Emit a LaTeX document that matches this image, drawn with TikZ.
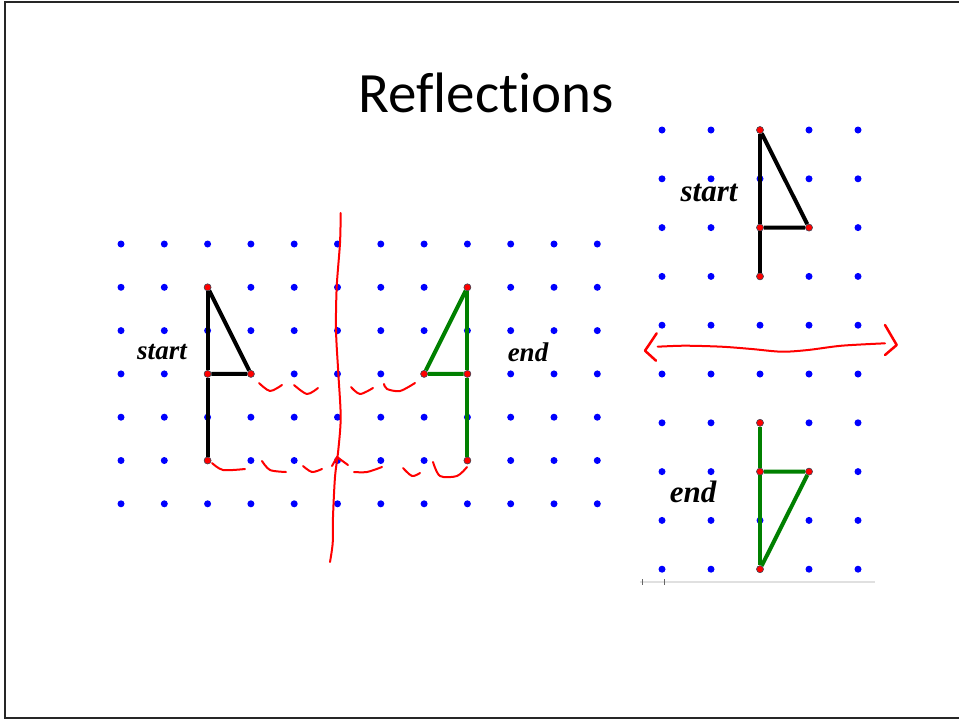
\documentclass[tikz,border=0pt]{standalone}
\usepackage{fontspec}
\setmainfont{Liberation Serif}
\newfontfamily\titlefont{Carlito}[Ligatures={NoCommon,NoContextual}]
\usetikzlibrary{positioning}
\definecolor{gridblue}{RGB}{0,0,255}
\definecolor{pen}{RGB}{255,0,0}
\definecolor{mirgreen}{RGB}{0,128,0}
\tikzset{
  dot/.style={circle, fill=gridblue, inner sep=0pt, minimum size=7pt},
  vtx/.style={circle, draw=black!70, fill=red, inner sep=0pt, minimum size=7pt, line width=0.6pt},
  side/.style={line width=4pt, draw=#1},
  side/.default={black},
  ink/.style={draw=pen, line width=2pt, line cap=round, line join=round},
  lbl/.style={font=\fontsize{#1}{#1}\selectfont\bfseries\itshape, inner sep=0pt},
  lbl/.default={27}
}

\begin{document}
\begin{tikzpicture}[x=1pt, y=-1pt]
  \useasboundingbox (0,0) rectangle (959,721);
  \fill[white] (0,0) rectangle (959,721);
  \draw[line width=1.5pt, black!85] (959,2) -- (5,2) -- (5,718) -- (959,718);
  \node[font=\titlefont\fontsize{57}{60}\selectfont] (title) at (486,93) {Reflections};

  % left grid
  \foreach \i in {0,...,11}
    \foreach \j in {0,...,6}
      \node[dot] (L-\i-\j) at ({121+43.3*\i},{244+43.3*\j}) {};
  % right grid
  \foreach \i in {0,...,4}
    \foreach \j in {0,...,9}
      \node[dot] (R-\i-\j) at ({662+49*\i},{130+48.8*\j}) {};

  % left: start shape
  \node[vtx] (sTop) at (L-2-1) {};
  \node[vtx] (sMid) at (L-2-3) {};
  \node[vtx] (sTip) at (L-3-3) {};
  \node[vtx] (sBot) at (L-2-5) {};
  \draw[side] (sTop) -- (sMid) -- (sBot);
  \draw[side] (sMid) -- (sTip) -- (sTop);
  % left: end shape
  \node[vtx] (eTop) at (L-8-1) {};
  \node[vtx] (eMid) at (L-8-3) {};
  \node[vtx] (eTip) at (L-7-3) {};
  \node[vtx] (eBot) at (L-8-5) {};
  \draw[side=mirgreen] (eTop) -- (eMid) -- (eBot);
  \draw[side=mirgreen] (eMid) -- (eTip) -- (eTop);
  \node[lbl] (startL) at (162,352) {start};
  \node[lbl] (endL) at (528,352) {end};

  % right: start shape
  \node[vtx] (rsTop) at (R-2-0) {};
  \node[vtx] (rsMid) at (R-2-2) {};
  \node[vtx] (rsTip) at (R-3-2) {};
  \node[vtx] (rsBot) at (R-2-3) {};
  \draw[side] (rsTop) -- (rsMid) -- (rsBot);
  \draw[side] (rsMid) -- (rsTip) -- (rsTop);
  % right: end shape
  \node[vtx] (reTop) at (R-2-6) {};
  \node[vtx] (reMid) at (R-2-7) {};
  \node[vtx] (reTip) at (R-3-7) {};
  \node[vtx] (reBot) at (R-2-9) {};
  \draw[side=mirgreen] (reTop) -- (reMid) -- (reBot);
  \draw[side=mirgreen] (reMid) -- (reTip) -- (reBot);
  \node[lbl=31] (startR) at (709,193) {start};
  \node[lbl=31] (endR) at (693,492) {end};

  % slider bar under the right grid
  \draw[black!12, line width=1.5pt] (640,582) -- (875,582);
  \draw[black!60, line width=0.6pt] (642,579) -- (642,585) (664,579) -- (664,585);

  % pen marks: mirror line and counted steps
  \draw[ink] plot[smooth] coordinates {(340.7,213) (340,243) (336.7,287) (336,330) (338.3,373) (340.7,417) (338.3,450) (335,477) (333,517) (332.7,543) (330,562)};
  \draw[ink] (332,466) -- (337,457) -- (348,465);
  \draw[ink] plot[smooth] coordinates {(259,383) (270,391) (282,385)};
  \draw[ink] plot[smooth] coordinates {(294,385) (307,394) (318,388)};
  \draw[ink] plot[smooth] coordinates {(351,387) (360,394) (373,388)};
  \draw[ink] plot[smooth] coordinates {(384,384) (387,389) (400,391) (415,383)};
  \draw[ink] plot[smooth] coordinates {(212,463) (223,470) (245,469)};
  \draw[ink] plot[smooth] coordinates {(262,461) (270,470) (286,472)};
  \draw[ink] plot[smooth] coordinates {(303,466) (312,472) (322,469)};
  \draw[ink] plot[smooth] coordinates {(354,472) (367,472) (382,467)};
  \draw[ink] plot[smooth] coordinates {(403,468) (412,476) (420,473)};
  \draw[ink] plot[smooth] coordinates {(433,462) (440,476) (457,476) (467,467)};
  % pen marks: horizontal mirror line
  \draw[ink] plot[smooth] coordinates {(657.7,346.7) (685,345.7) (721.7,346.7) (751.7,349) (781.7,351.7) (808,350) (841.7,345.7) (885,343.3)};
  \draw[ink, line width=2.5pt] (656.7,333.3) -- (645,350.7) -- (656,360.7);
  \draw[ink, line width=2.5pt] (885,325) -- (896.7,345) -- (885,355);
\end{tikzpicture}
\end{document}
